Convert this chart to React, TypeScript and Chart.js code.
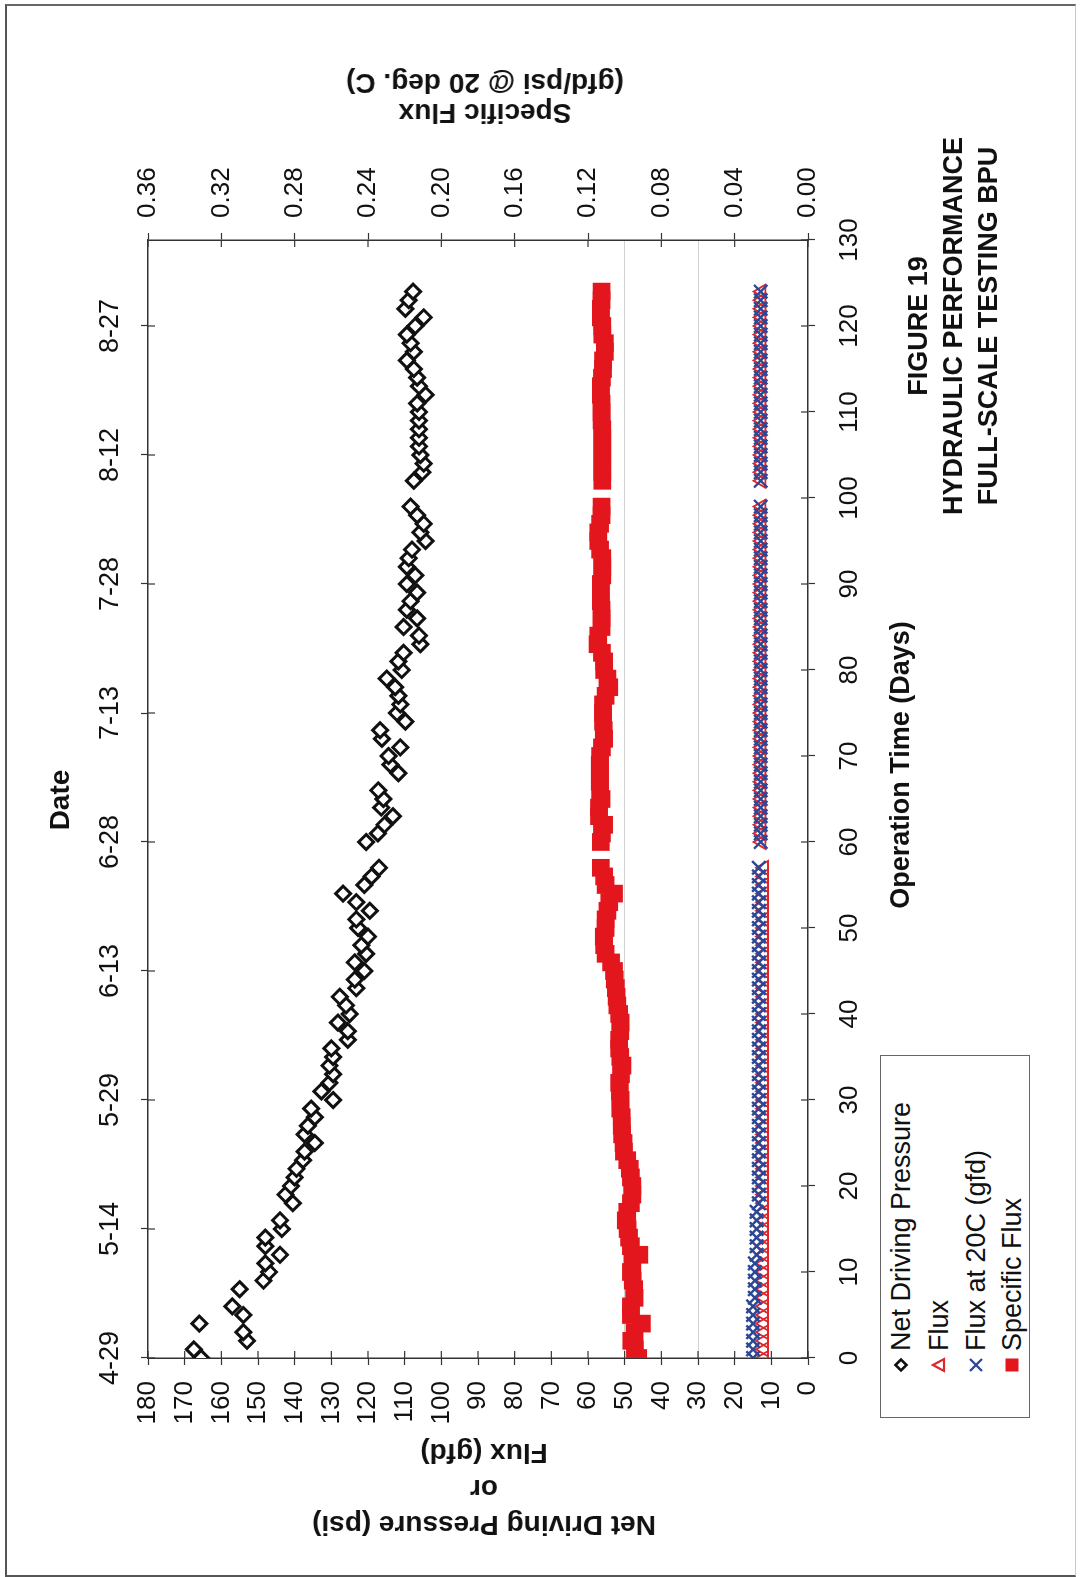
import React, { useEffect, useRef } from 'react';
import { Chart, registerables } from 'chart.js';

Chart.register(...registerables);

// ---------------- DATA ----------------
const DAYS = [
  0, 1, 2, 3, 4, 5, 6, 7, 8, 9,
  10, 11, 12, 13, 14, 15, 16, 17, 18, 19,
  20, 21, 22, 23, 24, 25, 26, 27, 28, 29,
  30, 31, 32, 33, 34, 35, 36, 37, 38, 39,
  40, 41, 42, 43, 44, 45, 46, 47, 48, 49,
  50, 51, 52, 53, 54, 55, 56, 57,
  60, 61, 62, 63, 64, 65, 66, 67, 68, 69,
  70, 71, 72, 73, 74, 75, 76, 77, 78, 79,
  80, 81, 82, 83, 84, 85, 86, 87, 88, 89,
  90, 91, 92, 93, 94, 95, 96, 97, 98, 99,
  102, 103, 104, 105, 106, 107, 108, 109,
  110, 111, 112, 113, 114, 115, 116, 117, 118, 119,
  120, 121, 122, 123, 124,
];

const NET_DRIVING_PRESSURE = [
  165.5, 167.5, 153, 154, 166, 154, 157, null, 155, 148.5,
  147, 148, 144, 148, 148, 143.5, 144, null, 140.5, 142.5,
  141, 140, 139.5, 137.7, 137.3, 134.5, 137.3, 136.4, 134.5, 135.5,
  129.5, 132.7, 130.5, 129.5, 130.5, 129.5, 130, 125.5, 125.5, 128.2,
  125, 126, 127.7, 123.2, 123.6, 121, 123.6, 120.5, 121.8, 120,
  122.7, 123.2, 119.5, 123.2, 126.8, 121, 119, 117,
  120.5, 117.3, 115.5, 113.2, 116.4, 115.8, 117.2, null, 111.7, 113.9,
  114.4, 111.2, 116.2, 116.7, 109.8, 112.1, 111.2, 111.7, 112.6, 114.9,
  110.8, 111.7, 110.3, 105.7, 106.1, 110.3, 106.6, 109.4, 108.4, 106.6,
  109.4, 107.1, 109.4, 108.9, 108, 104.3, 105.7, 104.8, 106.6, 108.4,
  107.5, 105.2, 104.8, 105.7, 106.1, 106.1, 106.1, 106.1,
  106.1, 106.6, 104.3, 106.1, 106.6, 107.5, 109.4, 107.5, 108.4, 109.4,
  107.1, 104.8, 109.8, 108.9, 107.7,
];

const FLUX = [
  12.0, 12.0, 12.0, 12.0, 12.0, 12.0, 12.0, 12.0, 12.0, 12.0,
  12.0, 12.0, 12.0, 12.0, 12.0, 12.0, 12.0, 12.0, 12.0, 12.0,
  12.0, 12.0, 12.0, 12.0, 12.0, 12.0, 12.0, 12.0, 12.0, 12.0,
  12.0, 12.0, 12.0, 12.0, 12.0, 12.0, 12.0, 12.0, 12.0, 12.0,
  12.0, 12.0, 12.0, 12.0, 12.0, 12.0, 12.0, 12.0, 12.0, 12.0,
  12.0, 12.0, 12.0, 12.0, 12.0, 12.0, 12.0, 12.0,
  12.7, 12.7, 12.7, 12.7, 12.7, 12.7, 12.7, 12.7, 12.7, 12.7,
  12.7, 12.7, 12.7, 12.7, 12.7, 12.7, 12.7, 12.7, 12.7, 12.7,
  12.7, 12.7, 12.7, 12.7, 12.7, 12.7, 12.7, 12.7, 12.7, 12.7,
  12.7, 12.7, 12.7, 12.7, 12.7, 12.7, 12.7, 12.7, 12.7, 12.7,
  12.7, 12.7, 12.7, 12.7, 12.7, 12.7, 12.7, 12.7,
  12.7, 12.7, 12.7, 12.7, 12.7, 12.7, 12.7, 12.7, 12.7, 12.7,
  12.7, 12.7, 12.7, 12.7, 12.7,
];

const FLUX_20C = [
  15.0, 15.0, 15.0, 15.0, 15.0, 15.0, 15.0, 14.5, 14.5, 14.5,
  14.5, 14.5, 14.0, 14.0, 14.0, 14.0, 14.0, 14.0, 13.4, 13.4,
  13.4, 13.4, 13.4, 13.4, 13.4, 13.4, 13.4, 13.4, 13.4, 13.4,
  13.4, 13.4, 13.4, 13.4, 13.4, 13.4, 13.4, 13.4, 13.4, 13.4,
  13.4, 13.4, 13.4, 13.4, 13.4, 13.4, 13.4, 13.4, 13.4, 13.4,
  13.4, 13.4, 13.4, 13.4, 13.4, 13.4, 13.4, 13.4,
  12.9, 12.9, 12.9, 12.9, 12.9, 12.9, 12.9, 12.9, 12.9, 12.9,
  12.9, 12.9, 12.9, 12.9, 12.9, 12.9, 12.9, 12.9, 12.9, 12.9,
  12.9, 12.9, 12.9, 12.9, 12.9, 12.9, 12.9, 12.9, 12.9, 12.9,
  12.9, 12.9, 12.9, 12.9, 12.9, 12.9, 12.9, 12.9, 12.9, 12.9,
  12.9, 12.9, 12.9, 12.9, 12.9, 12.9, 12.9, 12.9,
  12.9, 12.9, 12.9, 12.9, 12.9, 12.9, 12.9, 12.9, 12.9, 12.9,
  12.9, 12.9, 12.9, 12.9, 12.9,
];

const SPECIFIC_FLUX = [
  0.0926, 0.0944, 0.0964, 0.0946, 0.0906, 0.0966, 0.0966, 0.0946, 0.0948, 0.0956,
  0.0966, 0.0958, 0.092, 0.0966, 0.0976, 0.0984, 0.0994, 0.0986, 0.0966, 0.0958,
  0.0958, 0.0966, 0.0972, 0.0986, 0.1004, 0.1006, 0.1014, 0.1016, 0.1016, 0.1024,
  0.1022, 0.1026, 0.103, 0.102, 0.1012, 0.1024, 0.103, 0.103, 0.1024, 0.1022,
  0.103, 0.104, 0.1044, 0.1048, 0.1054, 0.1058, 0.1074, 0.1104, 0.1112, 0.1114,
  0.1104, 0.1104, 0.1094, 0.1084, 0.1058, 0.1104, 0.1112, 0.113,
  0.113, 0.1124, 0.1112, 0.114, 0.114, 0.1126, 0.1134, 0.1136, 0.1134, 0.1136,
  0.1134, 0.1124, 0.1112, 0.1114, 0.1118, 0.1118, 0.1118, 0.1104, 0.1084, 0.1094,
  0.1112, 0.1112, 0.1124, 0.1148, 0.1144, 0.1126, 0.1126, 0.1126, 0.113, 0.113,
  0.113, 0.1122, 0.1122, 0.1122, 0.1134, 0.1144, 0.1144, 0.1134, 0.1126, 0.1126,
  0.1122, 0.1122, 0.1122, 0.1122, 0.1122, 0.1122, 0.1122, 0.1126,
  0.1126, 0.1126, 0.113, 0.113, 0.1124, 0.1118, 0.1118, 0.1108, 0.1108, 0.1122,
  0.1122, 0.113, 0.113, 0.1126, 0.1126,
];

const DATE_TICK_DAYS = [0, 15, 30, 45, 60, 75, 90, 105, 120];
const DATE_LABELS = ['4-29', '5-14', '5-29', '6-13', '6-28', '7-13', '7-28', '8-12', '8-27'];
const PSI_GRID_VALUES = [30, 50];

const SERIES_NAMES = ['Net Driving Pressure', 'Flux', 'Flux at 20C (gfd)', 'Specific Flux'];
const LEFT_TITLE = ['Net Driving Pressure (psi)', 'or', 'Flux (gfd)'];
const RIGHT_TITLE = ['Specific Flux', '(gfd/psi @ 20 deg. C)'];
const X_TITLE = 'Operation Time (Days)';
const TOP_TITLE = 'Date';
const FIGURE_TITLE = ['FIGURE 19', 'HYDRAULIC PERFORMANCE', 'FULL-SCALE TESTING BPU'];

// ---------------- STYLE ----------------
const FONT = '"Liberation Sans", Arial, Helvetica, sans-serif';
const W = 1577; // unrotated width (page height)
const H = 1081; // unrotated height (page width)
const AXIS = '#333';
const TICK_TEXT = '#111';
const RED = '#e3161e';
const TRI_RED = '#e0262a';
const BLUE = '#2c4796';

const innerTicks = {
  id: 'innerTicks',
  beforeDatasetsDraw(chart: any) {
    const { ctx, chartArea: a } = chart;
    const L = 7;
    ctx.save();
    ctx.strokeStyle = AXIS;
    ctx.lineWidth = 1.2;
    ['x', 'xTop', 'y', 'y2'].forEach((id) => {
      const s = chart.scales[id];
      if (!s) return;
      s.ticks.forEach((t: any) => {
        const p = s.getPixelForValue(t.value);
        ctx.beginPath();
        if (id === 'x') { ctx.moveTo(p, a.bottom); ctx.lineTo(p, a.bottom - L); }
        if (id === 'xTop') { ctx.moveTo(p, a.top); ctx.lineTo(p, a.top + L); }
        if (id === 'y') { ctx.moveTo(a.left, p); ctx.lineTo(a.left + L, p); }
        if (id === 'y2') { ctx.moveTo(a.right, p); ctx.lineTo(a.right - L, p); }
        ctx.stroke();
      });
    });
    ctx.restore();
  },
};

function Txt(props: { x: number; y: number; size: number; bold?: boolean; rotate?: number; lh?: number; lines: string[] }) {
  const { x, y, size, bold, rotate = 0, lh, lines } = props;
  return (
    <div
      style={{
        position: 'absolute',
        left: x,
        top: y,
        transform: `translate(-50%, -50%) rotate(${rotate}deg)`,
        fontFamily: FONT,
        fontSize: size,
        fontWeight: bold ? 700 : 400,
        lineHeight: lh ? `${lh}px` : 'normal',
        whiteSpace: 'nowrap',
        textAlign: 'center',
        color: '#111',
      }}
    >
      {lines.map((l, i) => (
        <div key={i}>{l}</div>
      ))}
    </div>
  );
}

function LegendMarker({ kind }: { kind: number }) {
  if (kind === 0)
    return (
      <svg width="16" height="16" viewBox="0 0 16 16">
        <polygon points="8,2.5 13.5,8 8,13.5 2.5,8" fill="#fff" stroke="#111" strokeWidth="2.6" />
      </svg>
    );
  if (kind === 1)
    return (
      <svg width="16" height="16" viewBox="0 0 16 16">
        <polygon points="8,2 14,13 2,13" fill="none" stroke={TRI_RED} strokeWidth="2.2" />
      </svg>
    );
  if (kind === 2)
    return (
      <svg width="16" height="16" viewBox="0 0 16 16">
        <path d="M2,2 L14,14 M14,2 L2,14" stroke={BLUE} strokeWidth="2.4" />
      </svg>
    );
  return (
    <svg width="16" height="16" viewBox="0 0 16 16">
      <rect x="1.5" y="1.5" width="13" height="13" fill={RED} />
    </svg>
  );
}

export default function App() {
  const ref = useRef<HTMLCanvasElement | null>(null);

  useEffect(() => {
    if (!ref.current) return;
    Chart.defaults.font.family = FONT;
    const pts = (vals: (number | null)[]) => DAYS.map((d, i) => ({ x: d, y: vals[i] }));
    const chart = new Chart(ref.current, {
      type: 'scatter',
      data: {
        datasets: [
          {
            label: SERIES_NAMES[0],
            data: pts(NET_DRIVING_PRESSURE),
            xAxisID: 'x',
            yAxisID: 'y',
            pointStyle: 'rectRot',
            pointRadius: 7.5,
            pointBorderWidth: 3,
            pointBorderColor: '#111',
            pointBackgroundColor: '#fff',
            order: 1,
          },
          {
            label: SERIES_NAMES[1],
            data: pts(FLUX),
            xAxisID: 'x',
            yAxisID: 'y',
            pointStyle: 'triangle',
            pointRadius: 8,
            pointBorderWidth: 1.8,
            pointBorderColor: TRI_RED,
            pointBackgroundColor: 'rgba(0,0,0,0)',
            order: 3,
          },
          {
            label: SERIES_NAMES[2],
            data: pts(FLUX_20C),
            xAxisID: 'x',
            yAxisID: 'y',
            pointStyle: 'crossRot',
            pointRadius: 9.5,
            pointBorderWidth: 2.4,
            pointBorderColor: BLUE,
            pointBackgroundColor: BLUE,
            order: 2,
          },
          {
            label: SERIES_NAMES[3],
            data: pts(SPECIFIC_FLUX),
            xAxisID: 'x',
            yAxisID: 'y2',
            pointStyle: 'rect',
            pointRadius: 12.5,
            pointBorderWidth: 0,
            pointBorderColor: RED,
            pointBackgroundColor: RED,
            order: 4,
          },
        ] as any,
      },
      options: {
        responsive: false,
        animation: false,
        events: [],
        layout: { padding: 0 },
        plugins: { legend: { display: false }, tooltip: { enabled: false }, title: { display: false } },
        scales: {
          x: {
            type: 'linear',
            position: 'bottom',
            min: 0,
            max: 130,
            ticks: { stepSize: 10, font: { size: 26 }, color: TICK_TEXT, padding: 19, maxRotation: 0, autoSkip: false },
            grid: { drawOnChartArea: false, tickLength: 7, tickColor: AXIS, tickWidth: 1.2 },
            border: { color: AXIS, width: 1.5 },
            afterFit: (s: any) => { s.height = 273; },
          },
          xTop: {
            type: 'linear',
            position: 'top',
            min: 0,
            max: 130,
            afterBuildTicks: (s: any) => { s.ticks = DATE_TICK_DAYS.map((v) => ({ value: v })); },
            ticks: {
              callback: (_v: any, i: number) => DATE_LABELS[i],
              font: { size: 27 },
              color: TICK_TEXT,
              padding: 14,
              maxRotation: 0,
              autoSkip: false,
            },
            grid: { drawOnChartArea: false, tickLength: 7, tickColor: AXIS, tickWidth: 1.2 },
            border: { color: AXIS, width: 1.5 },
            afterFit: (s: any) => { s.height = 148; },
          },
          y: {
            type: 'linear',
            position: 'left',
            min: 0,
            max: 180,
            ticks: { stepSize: 10, font: { size: 26 }, color: TICK_TEXT, padding: 16, autoSkip: false },
            grid: {
              drawOnChartArea: true,
              color: (c: any) => (c.tick && PSI_GRID_VALUES.includes(c.tick.value) ? '#d2d2d2' : 'rgba(0,0,0,0)'),
              lineWidth: 1,
              tickLength: 7,
              tickColor: AXIS,
              tickWidth: 1.2,
            },
            border: { color: AXIS, width: 1.5 },
            afterFit: (s: any) => { s.width = 219; },
          },
          y2: {
            type: 'linear',
            position: 'right',
            min: 0,
            max: 0.36,
            ticks: {
              stepSize: 0.04,
              callback: (v: any) => Number(v).toFixed(2),
              font: { size: 26 },
              color: TICK_TEXT,
              padding: 15,
              autoSkip: false,
            },
            grid: { drawOnChartArea: false, tickLength: 7, tickColor: AXIS, tickWidth: 1.2 },
            border: { color: AXIS, width: 1.5 },
            afterFit: (s: any) => { s.width = 240; },
          },
        },
      } as any,
      plugins: [innerTicks],
    });
    return () => chart.destroy();
  }, []);

  const legendRows = [20, 58, 95, 131];

  return (
    <div style={{ position: 'absolute', left: 0, top: 0, width: 1081, height: 1577, overflow: 'hidden', background: '#fff' }}>
      <div
        style={{
          position: 'absolute',
          left: 0,
          top: 0,
          width: W,
          height: H,
          transformOrigin: '0 0',
          transform: `translateY(${W}px) rotate(-90deg)`,
        }}
      >
        <canvas ref={ref} width={W} height={H} style={{ position: 'absolute', left: 0, top: 0 }} />

        <Txt x={777} y={60} size={28} bold lines={[TOP_TITLE]} />
        <Txt x={88} y={484} size={28} bold rotate={-90} lh={36} lines={LEFT_TITLE} />
        <Txt x={1479} y={485} size={28} bold rotate={-90} lh={30} lines={RIGHT_TITLE} />
        <Txt x={812} y={900} size={27} bold lines={[X_TITLE]} />
        <Txt x={1251} y={953} size={27} bold lh={35} lines={FIGURE_TITLE} />

        <div
          style={{
            position: 'absolute',
            left: 159,
            top: 880,
            width: 363,
            height: 150,
            boxSizing: 'border-box',
            border: '1.5px solid #666',
            background: '#fff',
          }}
        >
          {SERIES_NAMES.map((name, i) => (
            <div
              key={name}
              style={{
                position: 'absolute',
                left: 44,
                top: legendRows[i],
                height: 0,
                display: 'flex',
                alignItems: 'center',
                whiteSpace: 'nowrap',
                fontFamily: FONT,
                fontSize: 27,
                color: '#111',
              }}
            >
              <LegendMarker kind={i} />
              <span style={{ marginLeft: 6 }}>{name}</span>
            </div>
          ))}
        </div>
      </div>
      <div
        style={{
          position: 'absolute',
          left: 5,
          top: 4,
          width: 1071,
          height: 1573,
          boxSizing: 'border-box',
          borderLeft: '2px solid #555',
          borderTop: '2px solid #666',
          borderBottom: '2px solid #555',
          borderRight: '1px solid #c8c8c8',
          pointerEvents: 'none',
        }}
      />
    </div>
  );
}
